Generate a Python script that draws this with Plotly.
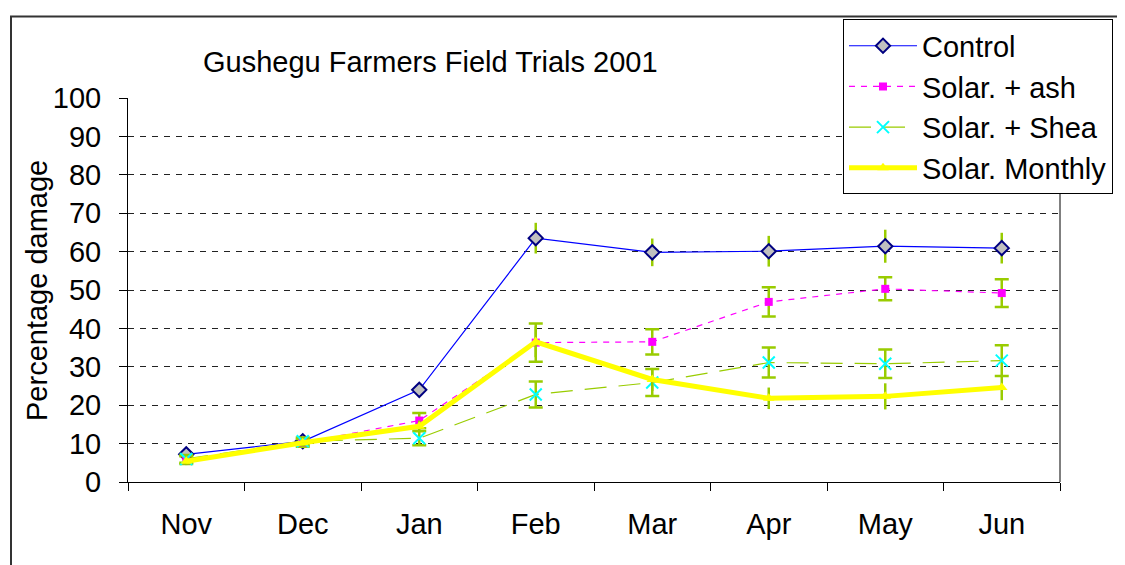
import plotly.graph_objects as go

months = ["Nov", "Dec", "Jan", "Feb", "Mar", "Apr", "May", "Jun"]

control = [7.2, 10.6, 24.0, 63.5, 59.8, 60.1, 61.4, 60.9]
control_err = [1.0, 1.0, 1.5, 4.0, 3.6, 4.0, 4.3, 4.0]

ash = [5.7, 10.2, 16.0, 36.3, 36.5, 46.9, 50.3, 49.2]
ash_err = [1.0, 1.0, 2.0, 5.0, 3.3, 3.8, 3.0, 3.6]

shea = [6.0, 10.6, 11.4, 22.8, 25.9, 31.1, 30.8, 31.6]
shea_err = [1.0, 1.0, 1.8, 3.4, 3.5, 3.9, 3.7, 4.0]

monthly = [5.4, 10.2, 14.5, 36.5, 26.7, 21.8, 22.3, 24.6]
monthly_err = [1.0, 1.0, 1.5, 4.0, 3.0, 2.8, 3.4, 3.3]

FONT = "Liberation Sans, Arial, sans-serif"
ERR = "#99CC00"

fig = go.Figure()

fig.add_trace(go.Scatter(
    x=months, y=control, name="Control", mode="lines+markers",
    line=dict(color="#0000FF", width=1.2),
    marker=dict(symbol="diamond", size=11, color="#C0C0C0",
                line=dict(color="#000080", width=2)),
    error_y=dict(type="data", array=control_err, color=ERR, thickness=2.5, width=0),
))
fig.add_trace(go.Scatter(
    x=months, y=ash, name="Solar. + ash", mode="lines+markers",
    line=dict(color="#FF00FF", width=1.2, dash="6px,6px"),
    marker=dict(symbol="square", size=8, color="#FF00FF"),
    error_y=dict(type="data", array=ash_err, color=ERR, thickness=2.5, width=7),
))
fig.add_trace(go.Scatter(
    x=months, y=shea, name="Solar. + Shea", mode="lines+markers",
    line=dict(color=ERR, width=1.2, dash="22px,12px"),
    marker=dict(symbol="x-thin", size=12, color="#00FFFF",
                line=dict(color="#00FFFF", width=2)),
    error_y=dict(type="data", array=shea_err, color=ERR, thickness=2.5, width=7),
))
fig.add_trace(go.Scatter(
    x=months, y=monthly, name="Solar. Monthly", mode="lines+markers",
    line=dict(color="#FFFF00", width=5),
    marker=dict(symbol="triangle-up", size=10, color="#FFFF00"),
    error_y=dict(type="data", array=monthly_err, color=ERR, thickness=2.5, width=0),
))

# screen geometry (page has an 8px body margin)
OFF = 8
W, H = 1125, 565
PL, PR, PT, PB = 128, 1060, 96, 482   # plot area in screen pixels
L = PL - OFF
T = PT - OFF
pw, ph = PR - PL, PB - PT
R = W - L - pw
B = H - T - ph


def px(x):
    return (x - PL) / pw


def py(y):
    return (PB - y) / ph


fig.update_layout(
    width=W, height=H,
    margin=dict(l=L, r=R, t=T, b=B),
    paper_bgcolor="white", plot_bgcolor="white",
    font=dict(family=FONT, size=29, color="black"),
    showlegend=True,
    legend=dict(
        x=px(843), y=py(17), xanchor="left", yanchor="top",
        bgcolor="white", bordercolor="black", borderwidth=1,
        font=dict(family=FONT, size=29, color="black"),
        itemwidth=68, tracegroupgap=0,
    ),
    xaxis=dict(
        type="category", range=[-0.5, 7.5],
        showline=True, linecolor="black", linewidth=1,
        ticks="outside", tickson="boundaries", ticklen=8, tickcolor="black",
        showgrid=False, ticklabelstandoff=16,
        tickfont=dict(family=FONT, size=29),
    ),
    yaxis=dict(
        range=[0, 100], dtick=10, tick0=0,
        showline=True, linecolor="black", linewidth=1,
        ticks="outside", ticklen=8, tickcolor="black",
        showgrid=True, gridcolor="#222222", griddash="6px,6px", gridwidth=1,
        zeroline=False, ticklabelstandoff=12,
        tickfont=dict(family=FONT, size=29),
    ),
    annotations=[
        dict(text="Gushegu Farmers Field Trials 2001", x=px(430), y=py(60),
             xref="paper", yref="paper", showarrow=False,
             xanchor="center", yanchor="middle",
             font=dict(family=FONT, size=29, color="black")),
        dict(text="Percentage damage", x=px(37), y=py(290),
             xref="paper", yref="paper", showarrow=False, textangle=-90,
             xanchor="center", yanchor="middle",
             font=dict(family=FONT, size=29, color="black")),
    ],
    shapes=[
        dict(type="rect", xref="paper", yref="paper",
             x0=px(11), x1=px(1140), y0=py(580), y1=py(14),
             line=dict(color="#333333", width=2), layer="below"),
        dict(type="line", xref="paper", yref="paper",
             x0=1, x1=1, y0=0, y1=1,
             line=dict(color="black", width=1), layer="below"),
    ],
)

fig.write_html("out.html")
